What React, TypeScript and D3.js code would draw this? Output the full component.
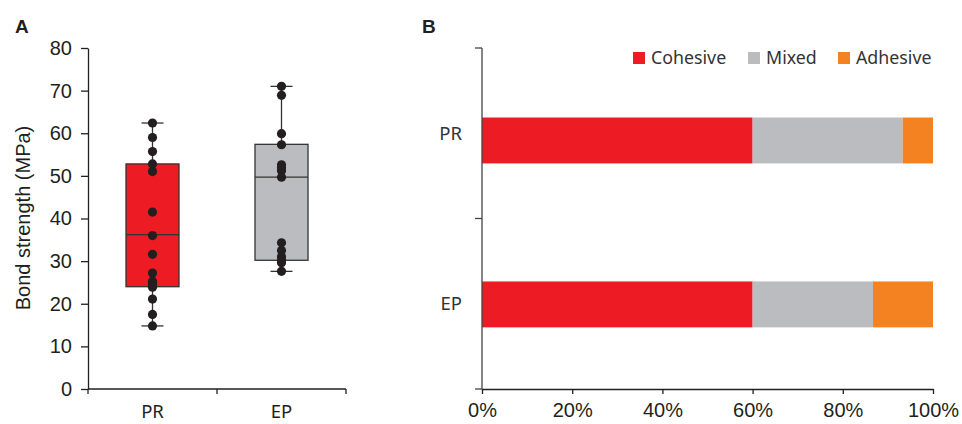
import React, { useEffect, useRef } from 'react';
import * as d3 from 'd3';

// panel A: bond strength per group
const groups = ['PR', 'EP'];
const prValues = [62.4, 59.0, 55.7, 52.8, 51.0, 41.5, 36.0, 31.6, 27.2, 25.3, 24.6, 23.9, 21.1, 17.5, 14.8];
const epValues = [71.0, 68.9, 59.9, 57.3, 52.6, 51.9, 51.2, 49.7, 34.3, 32.5, 31.0, 30.2, 29.6, 27.6];
const boxQ1 = [24.0, 30.2];
const boxMedian = [36.2, 49.7];
const boxQ3 = [52.8, 57.4];
const whiskerLow = [14.8, 27.6];
const whiskerHigh = [62.4, 71.0];
const boxColors = ['#ED1C24', '#BBBCBF'];
const yTicksA = [0, 10, 20, 30, 40, 50, 60, 70, 80];

// panel B: failure mode share (%)
const modes = ['Cohesive', 'Mixed', 'Adhesive'];
const cohesive = [60, 60];
const mixed = [33.3, 26.7];
const adhesive = [6.7, 13.3];
const modeColors = ['#ED1C24', '#BBBCBF', '#F58220'];
const xTicksB = [0, 20, 40, 60, 80, 100];

const ARIAL = '"Liberation Sans", Arial, sans-serif';
const SANS = '"Noto Sans", "Open Sans", sans-serif';
const INK = '#231F20';

const draw = (el: SVGSVGElement) => {
  const svg = d3.select(el);
  svg.selectAll('*').remove();

  // ---------- panel A ----------
  const a = svg.append('g');
  const yA = d3.scaleLinear().domain([0, 80]).range([389, 48]);
  const xA = d3.scaleBand().domain(groups).range([88, 346]);

  const yAxis = a.append('g')
    .attr('transform', 'translate(88,0)')
    .call(d3.axisLeft(yA).tickValues(yTicksA).tickSize(7).tickSizeOuter(0).tickPadding(9));
  yAxis.select('.domain').attr('stroke', INK).attr('stroke-width', 1.3);
  yAxis.selectAll('line').attr('stroke', INK).attr('stroke-width', 1.3);
  yAxis.selectAll('text').attr('font-family', ARIAL).attr('font-size', 20).attr('fill', INK);

  // bottom axis with ticks at band edges
  a.append('line').attr('x1', 88).attr('x2', 346).attr('y1', 389).attr('y2', 389)
    .attr('stroke', INK).attr('stroke-width', 1.3);
  const edges = [...groups.map(g => xA(g) as number), 346];
  a.selectAll('.edge').data(edges).enter().append('line')
    .attr('x1', d => d).attr('x2', d => d).attr('y1', 389).attr('y2', 394)
    .attr('stroke', INK).attr('stroke-width', 1.3);
  a.selectAll('.glabel').data(groups).enter().append('text')
    .attr('x', d => (xA(d) as number) + xA.bandwidth() / 2)
    .attr('y', 418)
    .attr('text-anchor', 'middle')
    .attr('font-family', SANS).attr('font-size', 18.5).attr('fill', INK)
    .text(d => d);

  a.append('text')
    .attr('transform', 'translate(29.5,218) rotate(-90)')
    .attr('text-anchor', 'middle')
    .attr('font-family', ARIAL).attr('font-size', 20).attr('fill', INK)
    .text('Bond strength (MPa)');

  const boxW = 53, capW = 22;
  groups.forEach((g, i) => {
    const cx = (xA(g) as number) + xA.bandwidth() / 2;
    // whiskers
    a.append('line').attr('x1', cx).attr('x2', cx).attr('y1', yA(whiskerHigh[i])).attr('y2', yA(boxQ3[i]))
      .attr('stroke', '#333').attr('stroke-width', 1.3);
    a.append('line').attr('x1', cx).attr('x2', cx).attr('y1', yA(boxQ1[i])).attr('y2', yA(whiskerLow[i]))
      .attr('stroke', '#333').attr('stroke-width', 1.3);
    [whiskerHigh[i], whiskerLow[i]].forEach(v => {
      a.append('line').attr('x1', cx - capW / 2).attr('x2', cx + capW / 2).attr('y1', yA(v)).attr('y2', yA(v))
        .attr('stroke', '#333').attr('stroke-width', 1.3);
    });
    a.append('rect')
      .attr('x', cx - boxW / 2).attr('width', boxW)
      .attr('y', yA(boxQ3[i])).attr('height', yA(boxQ1[i]) - yA(boxQ3[i]))
      .attr('fill', boxColors[i]).attr('stroke', '#333').attr('stroke-width', 1.3);
    a.append('line').attr('x1', cx - boxW / 2).attr('x2', cx + boxW / 2)
      .attr('y1', yA(boxMedian[i])).attr('y2', yA(boxMedian[i]))
      .attr('stroke', '#333').attr('stroke-width', 1.3);
    const vals = i === 0 ? prValues : epValues;
    a.selectAll('.pt' + i).data(vals).enter().append('circle')
      .attr('cx', cx).attr('cy', d => yA(d)).attr('r', 4.6).attr('fill', INK);
  });

  a.append('text').attr('x', 15).attr('y', 33)
    .attr('font-family', ARIAL).attr('font-weight', 'bold').attr('font-size', 19).attr('fill', INK)
    .text('A');

  // ---------- panel B ----------
  const b = svg.append('g');
  const xB = d3.scaleLinear().domain([0, 100]).range([482, 933]);
  const outer = d3.scaleBand().domain(groups).range([48, 389]);
  const yB = d3.scaleBand().domain(groups).range([48, 389])
    .paddingInner(0.72).paddingOuter(0.4).align(0.53);

  const table = groups.map((g, i) => ({ group: g, Cohesive: cohesive[i], Mixed: mixed[i], Adhesive: adhesive[i] }));
  const series = d3.stack<any>().keys(modes)(table);

  b.selectAll('.layer').data(series).enter().append('g')
    .attr('fill', (d, i) => modeColors[i])
    .selectAll('rect').data(d => d).enter().append('rect')
    .attr('x', d => xB(d[0]))
    .attr('width', d => xB(d[1]) - xB(d[0]))
    .attr('y', d => yB(d.data.group) as number)
    .attr('height', yB.bandwidth());

  const xAxis = b.append('g')
    .attr('transform', 'translate(0,389)')
    .call(d3.axisBottom(xB).tickValues(xTicksB).tickFormat(d => d + '%').tickSize(5).tickSizeOuter(0).tickPadding(9));
  xAxis.select('.domain').attr('stroke', INK).attr('stroke-width', 1.3);
  xAxis.selectAll('line').attr('stroke', INK).attr('stroke-width', 1.3);
  xAxis.selectAll('text').attr('font-family', ARIAL).attr('font-size', 20).attr('fill', INK);

  // category axis: ticks on band edges
  b.append('line').attr('x1', 482).attr('x2', 482).attr('y1', 48).attr('y2', 389)
    .attr('stroke', '#444').attr('stroke-width', 1.3);
  const bEdges = [...groups.map(g => outer(g) as number), 389];
  b.selectAll('.bedge').data(bEdges).enter().append('line')
    .attr('x1', 475).attr('x2', 482).attr('y1', d => d).attr('y2', d => d)
    .attr('stroke', '#444').attr('stroke-width', 1.3);
  b.selectAll('.blabel').data(groups).enter().append('text')
    .attr('x', 462)
    .attr('y', d => (outer(d) as number) + outer.bandwidth() / 2)
    .attr('dy', '0.35em')
    .attr('text-anchor', 'end')
    .attr('font-family', SANS).attr('font-size', 18.5).attr('fill', '#333')
    .text(d => d);

  // legend
  const legendX = [633, 748, 838];
  modes.forEach((m, i) => {
    b.append('rect').attr('x', legendX[i]).attr('y', 52).attr('width', 12).attr('height', 12).attr('fill', modeColors[i]);
    b.append('text').attr('x', legendX[i] + 18).attr('y', 58).attr('dy', '0.35em')
      .attr('font-family', SANS).attr('font-size', 17.8).attr('fill', '#333')
      .text(m);
  });

  b.append('text').attr('x', 422).attr('y', 33)
    .attr('font-family', ARIAL).attr('font-weight', 'bold').attr('font-size', 19).attr('fill', INK)
    .text('B');
};

export default function App() {
  const ref = useRef<SVGSVGElement>(null);
  useEffect(() => {
    if (ref.current) draw(ref.current);
  }, []);
  return (
    <div style={{ position: 'absolute', left: 0, top: 0 }}>
      <svg ref={ref} width={962} height={424} style={{ display: 'block', background: '#fff' }} />
    </div>
  );
}
